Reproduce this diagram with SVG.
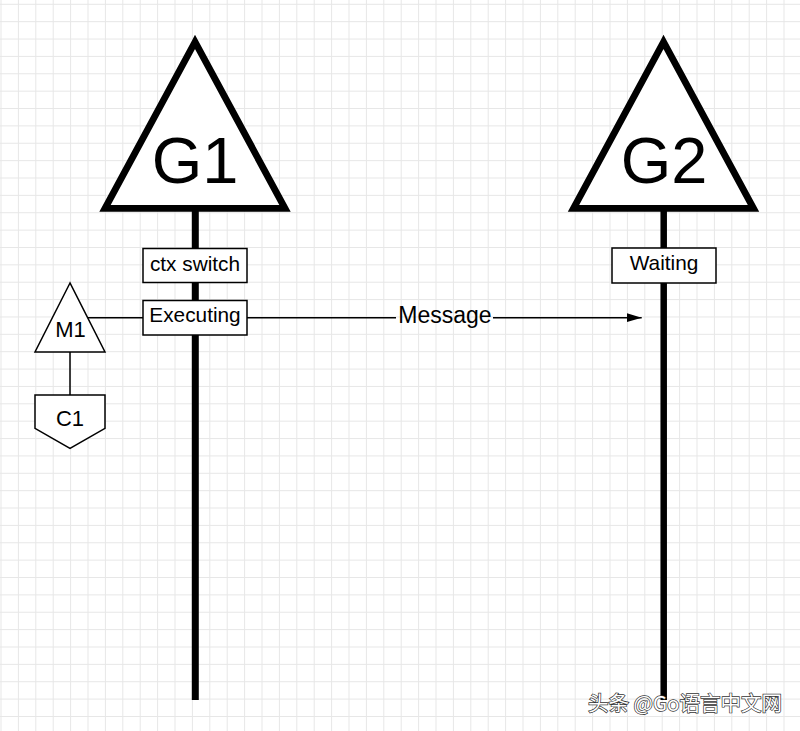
<svg xmlns="http://www.w3.org/2000/svg" width="800" height="731" viewBox="0 0 800 731">
<style>
.grid{stroke:#e7e7e7;stroke-width:1;fill:none}
.big{fill:#fff;stroke:#000;stroke-width:6.8;stroke-linejoin:miter}
.box{fill:#fff;stroke:#000;stroke-width:1.5}
.life{stroke:#000;fill:none}
.thin{stroke:#000;stroke-width:1.5;fill:none}
.t{font-family:"Liberation Sans",Arial,sans-serif;fill:#000;text-anchor:middle}
.g{font-size:65px}
.s{font-size:20.8px}
.m{font-size:22px}
.wm{font-family:"Noto Sans CJK SC","Liberation Sans",sans-serif;font-size:20.5px;fill:#fff;stroke:#333;stroke-width:1.4;paint-order:stroke;text-anchor:end}
</style>
<defs>
<marker id="arr" markerUnits="userSpaceOnUse" markerWidth="16" markerHeight="10" refX="15" refY="4.5" orient="auto">
<path d="M0,0 L15,4.5 L0,9 Z" fill="#000"/>
</marker>
</defs>
<rect width="800" height="731" fill="#fff"/>
<path class="grid" d="M1,0V731M18.4,0V731M35.8,0V731M53.2,0V731M70.6,0V731M88,0V731M105.4,0V731M122.8,0V731M140.2,0V731M157.6,0V731M175,0V731M192.4,0V731M209.8,0V731M227.2,0V731M244.6,0V731M262,0V731M279.4,0V731M296.8,0V731M314.2,0V731M331.6,0V731M349,0V731M366.4,0V731M383.8,0V731M401.2,0V731M418.6,0V731M436,0V731M453.4,0V731M470.8,0V731M488.2,0V731M505.6,0V731M523,0V731M540.4,0V731M557.8,0V731M575.2,0V731M592.6,0V731M610,0V731M627.4,0V731M644.8,0V731M662.2,0V731M679.6,0V731M697,0V731M714.4,0V731M731.8,0V731M749.2,0V731M766.6,0V731M784,0V731
M0,4.3H800M0,21.67H800M0,39.04H800M0,56.41H800M0,73.78H800M0,91.15H800M0,108.52H800M0,125.89H800M0,143.26H800M0,160.63H800M0,178H800M0,195.37H800M0,212.74H800M0,230.11H800M0,247.48H800M0,264.85H800M0,282.22H800M0,299.59H800M0,316.96H800M0,334.33H800M0,351.7H800M0,369.07H800M0,386.44H800M0,403.81H800M0,421.18H800M0,438.55H800M0,455.92H800M0,473.29H800M0,490.66H800M0,508.03H800M0,525.4H800M0,542.77H800M0,560.14H800M0,577.51H800M0,594.88H800M0,612.25H800M0,629.62H800M0,646.99H800M0,664.36H800M0,681.73H800M0,699.1H800M0,716.47H800"/>
<g id="connectors">
<line class="life" x1="195.3" y1="208" x2="195.3" y2="700" stroke-width="7"/>
<line class="life" x1="663.7" y1="208" x2="663.7" y2="700" stroke-width="6.5"/>
<line class="thin" x1="88" y1="317.7" x2="143" y2="317.7"/>
<line class="thin" x1="70" y1="352" x2="70" y2="395"/>
<line class="thin" x1="247" y1="317.7" x2="396" y2="317.7"/>
<line class="thin" x1="493" y1="317.7" x2="641.7" y2="317.7" marker-end="url(#arr)"/>
<text class="t" x="445" y="322.5" font-size="23">Message</text>
</g>
<g id="G1">
<polygon class="big" points="195,42 105,208.3 285,208.3"/>
<text class="t g" x="195" y="183.3">G1</text>
</g>
<g id="G2">
<polygon class="big" points="663.5,42 573.5,208.3 753.5,208.3"/>
<text class="t g" x="664" y="183.3">G2</text>
</g>
<g id="ctx-switch">
<rect class="box" x="143" y="248.5" width="104" height="34"/>
<text class="t s" x="195" y="270.5">ctx switch</text>
</g>
<g id="executing">
<rect class="box" x="143" y="300.5" width="104" height="34.5"/>
<text class="t s" x="195" y="322">Executing</text>
</g>
<g id="waiting">
<rect class="box" x="612" y="248" width="104" height="35"/>
<text class="t s" x="664" y="269.5">Waiting</text>
</g>
<g id="M1">
<polygon class="box" points="70,283 35,352 105,352"/>
<text class="t m" x="70.5" y="337">M1</text>
</g>
<g id="C1">
<polygon class="box" points="35,395 105,395 105,428.3 70,448.3 35,428.3"/>
<text class="t m" x="70" y="426">C1</text>
</g>
<text class="wm" x="782" y="711">头条 @Go语言中文网</text>
</svg>
